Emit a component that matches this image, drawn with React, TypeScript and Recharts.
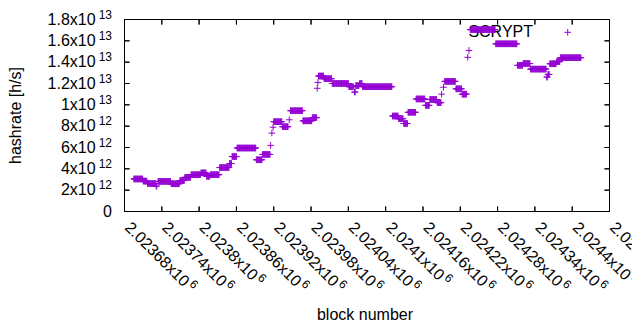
import React from 'react';
import { ScatterChart, Scatter, XAxis, YAxis, CartesianGrid, Legend } from 'recharts';

// ---- data (hashrate in units of 1e12 h/s) ----
const seriesName = 'SCRYPT';
// runs of consecutive blocks that share the same hashrate value
const runStart = [
  2023695, 2023710, 2023717, 2023731, 2023734, 2023755, 2023769, 2023777, 2023787, 2023803,
  2023812, 2023818, 2023833, 2023849, 2023853, 2023861, 2023892, 2023902, 2023915, 2023917,
  2023919, 2023920, 2023934, 2023945, 2023947, 2023967, 2023982, 2023990, 2023991, 2023992,
  2024001, 2024014, 2024041, 2024050, 2024052, 2024058, 2024063, 2024111, 2024121, 2024129,
  2024136, 2024149, 2024164, 2024171, 2024183, 2024190, 2024193, 2024195, 2024213, 2024223,
  2024232, 2024234, 2024236, 2024277, 2024312, 2024321, 2024333, 2024359, 2024361, 2024364,
  2024375, 2024381,
];
const runEnd = [
  2023709, 2023716, 2023730, 2023732, 2023754, 2023768, 2023776, 2023786, 2023802, 2023811,
  2023817, 2023832, 2023848, 2023852, 2023860, 2023891, 2023901, 2023914, 2023915, 2023917,
  2023919, 2023933, 2023943, 2023945, 2023966, 2023981, 2023989, 2023990, 2023991, 2024000,
  2024013, 2024040, 2024048, 2024051, 2024057, 2024062, 2024110, 2024120, 2024128, 2024135,
  2024148, 2024163, 2024170, 2024182, 2024189, 2024190, 2024193, 2024212, 2024222, 2024230,
  2024232, 2024234, 2024276, 2024311, 2024320, 2024332, 2024358, 2024360, 2024363, 2024374,
  2024380, 2024414,
];
const runValue = [
  3.05, 2.85, 2.62, 2.38, 2.82, 2.6, 2.9, 3.2, 3.45, 3.62,
  3.3, 3.45, 4.12, 4.5, 5.15, 5.95, 4.85, 5.35, 6.2, 7.35,
  7.9, 8.42, 7.95, 8.6, 9.45, 8.5, 8.8, 11.55, 12.1, 12.7,
  12.45, 12.0, 11.7, 11.2, 11.8, 12.0, 11.7, 8.95, 8.7, 8.25,
  9.3, 10.55, 9.95, 10.5, 10.2, 11.0, 11.65, 12.2, 11.5, 11.0,
  14.45, 15.1, 17.05, 15.72, 13.7, 13.87, 13.35, 12.6, 12.85, 13.85,
  14.05, 14.42,
];

const xDomain = [2023680, 2024460];
const xTicks = [
  2023680, 2023740, 2023800, 2023860, 2023920, 2023980, 2024040,
  2024100, 2024160, 2024220, 2024280, 2024340, 2024400, 2024460,
];
const xTickMantissa = [
  '2.02368', '2.02374', '2.0238', '2.02386', '2.02392', '2.02398', '2.02404',
  '2.0241', '2.02416', '2.02422', '2.02428', '2.02434', '2.0244', '2.02446',
];
const xTickExponent = '6';
const yDomain = [0, 18];
const yTicks = [0, 2, 4, 6, 8, 10, 12, 14, 16, 18];
const yTickMantissa = ['0', '2', '4', '6', '8', '1', '1.2', '1.4', '1.6', '1.8'];
const yTickExponent = ['', '12', '12', '12', '12', '13', '13', '13', '13', '13'];

const points: { block: number; hashrate: number }[] = [];
runStart.forEach((s, i) => {
  for (let b = s; b <= runEnd[i]; b++) points.push({ block: b, hashrate: runValue[i] });
});

// ---- styling / layout ----
const COLOR = '#9400d3';
const FONT = "'Liberation Sans', Arial, Helvetica, sans-serif";
const MARGIN = { top: 19.5, right: 30.5, bottom: 0, left: 0 };
const Y_AXIS_W = 124.5;
const X_AXIS_H = 118.5;
const CHART_W = 640;
const CHART_H = 330;
const PLOT_L = MARGIN.left + Y_AXIS_W;
const PLOT_T = MARGIN.top;
const PLOT_W = CHART_W - PLOT_L - MARGIN.right;
const PLOT_H = CHART_H - PLOT_T - MARGIN.bottom - X_AXIS_H;
const TICK = 5;
const PLUS = 3.3;

function XTick(props: any) {
  const { x, y, payload } = props;
  const i = xTicks.indexOf(payload.value);
  return (
    <g>
      <path
        d={`M${x},${y}V${y - TICK}M${x},${y - PLOT_H}V${y - PLOT_H + TICK}`}
        stroke="#000"
        strokeWidth={1}
        fill="none"
      />
      <text
        transform={`translate(${x - 0.5},${y + 17}) rotate(45)`}
        fontSize={16}
        fontFamily={FONT}
        fill="#000"
      >
        {xTickMantissa[i]}x10
        <tspan dx={2} dy={-6} fontSize={12}>{xTickExponent}</tspan>
      </text>
    </g>
  );
}

function YTick(props: any) {
  const { x, y, payload } = props;
  const i = yTicks.indexOf(payload.value);
  const exp = yTickExponent[i];
  return (
    <g>
      <path
        d={`M${x},${y}H${x + TICK}M${x + PLOT_W},${y}H${x + PLOT_W - TICK}`}
        stroke="#000"
        strokeWidth={1}
        fill="none"
      />
      <text x={x - 12.5} y={y + 5} textAnchor="end" fontSize={16} fontFamily={FONT} fill="#000">
        {exp ? `${yTickMantissa[i]}x10` : yTickMantissa[i]}
        {exp ? (
          <tspan dx={3} dy={-6} fontSize={12}>{exp}</tspan>
        ) : null}
      </text>
    </g>
  );
}

function YLabel(props: any) {
  const vb = props.viewBox || { x: 0, y: PLOT_T, width: Y_AXIS_W, height: PLOT_H };
  const cx = vb.x + 20.5;
  const cy = vb.y + vb.height / 2;
  return (
    <text transform={`translate(${cx},${cy}) rotate(-90)`} textAnchor="middle" fontSize={16} fontFamily={FONT} fill="#000">
      hashrate [h/s]
    </text>
  );
}

function XLabel(props: any) {
  const vb = props.viewBox || { x: PLOT_L, y: PLOT_T + PLOT_H, width: PLOT_W, height: X_AXIS_H };
  return (
    <text x={vb.x + vb.width / 2 - 2} y={vb.y + 108.5} textAnchor="middle" fontSize={16} fontFamily={FONT} fill="#000">
      block number
    </text>
  );
}

function PlusShape(props: any) {
  const { cx, cy } = props;
  if (cx == null || cy == null) return null;
  return (
    <path d={`M${cx - PLUS},${cy}H${cx + PLUS}M${cx},${cy - PLUS}V${cy + PLUS}`} stroke={COLOR} strokeWidth={1} fill="none" />
  );
}

function LegendContent(props: any) {
  const item = props.payload && props.payload[0];
  const name = (item && item.value) || seriesName;
  return (
    <svg width={140} height={22} style={{ display: 'block', overflow: 'visible' }}>
      <text x={93} y={15.3} textAnchor="end" fontSize={16} fontFamily={FONT} fill="#000">{name}</text>
      <path d={`M${127.7 - PLUS},10.3H${127.7 + PLUS}M127.7,${10.3 - PLUS}V${10.3 + PLUS}`} stroke={COLOR} strokeWidth={1} fill="none" />
    </svg>
  );
}

const frameRows = (p: any) => {
  const o = p.offset;
  return [o.top, o.top + o.height];
};
const frameCols = (p: any) => {
  const o = p.offset;
  return [o.left, o.left + o.width];
};

// frame + inward tick marks drawn on top of the plot (gnuplot-style border)
function FrameOverlay() {
  const sx = (b: number) => PLOT_L + ((b - xDomain[0]) / (xDomain[1] - xDomain[0])) * PLOT_W;
  const sy = (v: number) => PLOT_T + PLOT_H - ((v - yDomain[0]) / (yDomain[1] - yDomain[0])) * PLOT_H;
  let d = `M${PLOT_L},${PLOT_T}H${PLOT_L + PLOT_W}V${PLOT_T + PLOT_H}H${PLOT_L}Z`;
  xTicks.forEach((t) => {
    const x = sx(t);
    d += `M${x},${PLOT_T + PLOT_H}V${PLOT_T + PLOT_H - TICK}M${x},${PLOT_T}V${PLOT_T + TICK}`;
  });
  yTicks.forEach((t) => {
    const y = sy(t);
    d += `M${PLOT_L},${y}H${PLOT_L + TICK}M${PLOT_L + PLOT_W},${y}H${PLOT_L + PLOT_W - TICK}`;
  });
  return (
    <svg
      width={CHART_W}
      height={CHART_H}
      style={{ position: 'absolute', left: 0, top: 0, pointerEvents: 'none' }}
    >
      <path d={d} stroke="#000" strokeWidth={1} fill="none" />
    </svg>
  );
}

export default function App() {
  return (
    <div style={{ margin: -8, width: CHART_W, height: CHART_H, position: 'relative' }}>
      <ScatterChart width={CHART_W} height={CHART_H} margin={MARGIN}>
        <CartesianGrid
          stroke="#000"
          strokeWidth={1}
          horizontalCoordinatesGenerator={frameRows}
          verticalCoordinatesGenerator={frameCols}
        />
        <XAxis
          type="number" dataKey="block" domain={xDomain} ticks={xTicks} interval={0}
          height={X_AXIS_H} tickSize={0} tickMargin={0}
          axisLine={{ stroke: '#000', strokeWidth: 1 }} tickLine={false}
          tick={<XTick />} label={{ value: 'block number', content: <XLabel /> }}
        />
        <YAxis
          type="number" dataKey="hashrate" domain={yDomain} ticks={yTicks} interval={0}
          width={Y_AXIS_W} tickSize={0} tickMargin={0}
          axisLine={{ stroke: '#000', strokeWidth: 1 }} tickLine={false}
          tick={<YTick />} label={{ value: 'hashrate [h/s]', content: <YLabel /> }}
        />
        <Legend layout="vertical" align="center" verticalAlign="middle"
          wrapperStyle={{ left: 440, top: 22, width: 140, height: 22, zIndex: -1 }}
          content={<LegendContent />} />
        <Scatter name={seriesName} data={points} fill={COLOR} shape={<PlusShape />} isAnimationActive={false} />
      </ScatterChart>
      <FrameOverlay />
    </div>
  );
}
